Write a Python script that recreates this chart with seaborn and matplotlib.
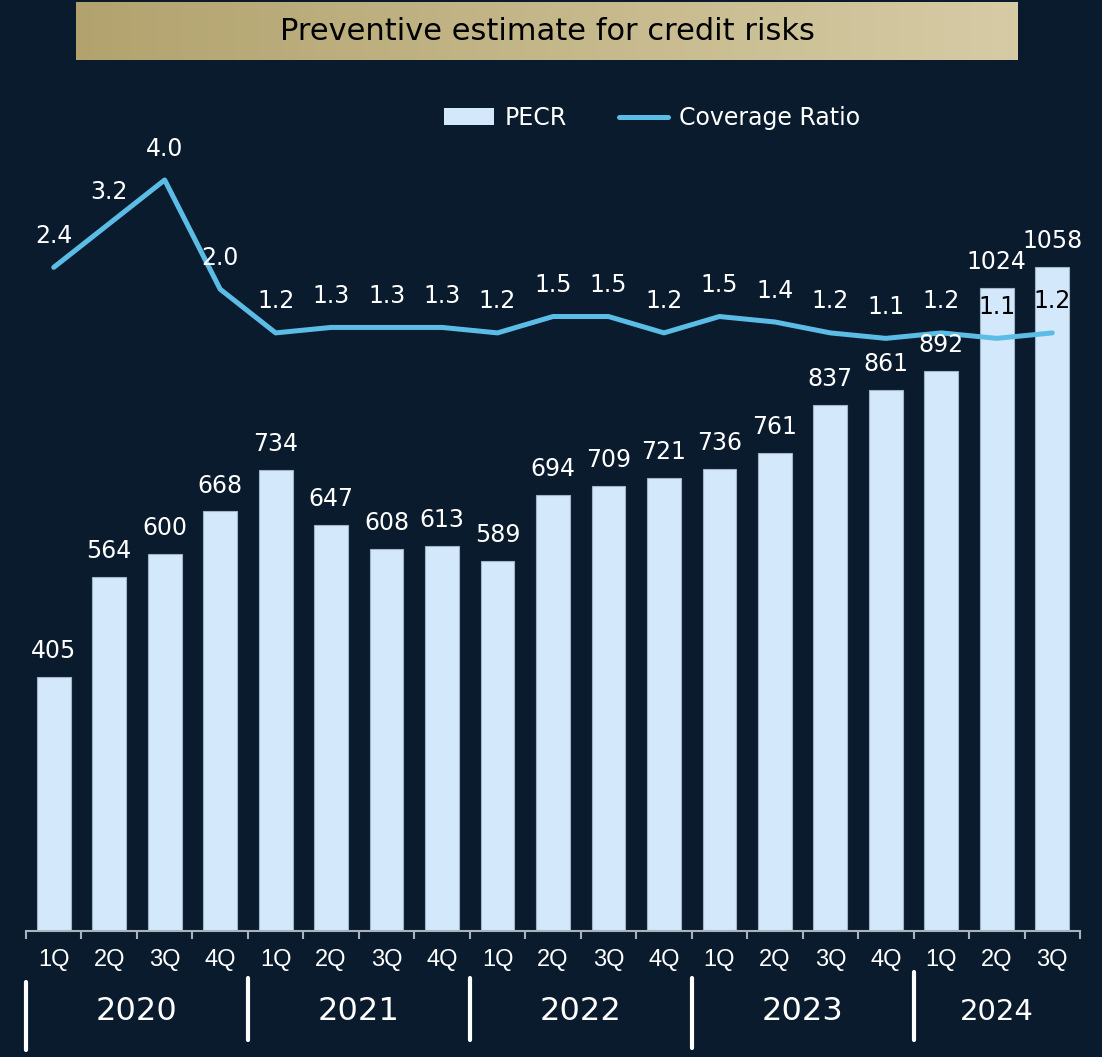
import numpy as np
import pandas as pd
import matplotlib
matplotlib.use("Agg")
import matplotlib.pyplot as plt
import matplotlib.transforms as mtransforms
from matplotlib.patches import Patch
from matplotlib.lines import Line2D
import seaborn as sns

# ---- data ----
years = ["2020", "2021", "2022", "2023", "2024"]
quarters_per_year = [4, 4, 4, 4, 3]
quarter_labels = ["1Q", "2Q", "3Q", "4Q", "1Q", "2Q", "3Q", "4Q", "1Q", "2Q",
                  "3Q", "4Q", "1Q", "2Q", "3Q", "4Q", "1Q", "2Q", "3Q"]
pecr = [405, 564, 600, 668, 734, 647, 608, 613, 589, 694,
        709, 721, 736, 761, 837, 861, 892, 1024, 1058]
coverage = [2.4, 3.2, 4.0, 2.0, 1.2, 1.3, 1.3, 1.3, 1.2, 1.5,
            1.5, 1.2, 1.5, 1.4, 1.2, 1.1, 1.2, 1.1, 1.2]

period = []
for y, n in zip(years, quarters_per_year):
    for q in range(n):
        period.append(f"{y} {q + 1}Q")
df = pd.DataFrame({"period": period, "quarter": quarter_labels,
                   "PECR": pecr, "Coverage": coverage})
df["pos"] = np.arange(len(df))

BG = "#0a1b2d"
BAR = "#d4e8fb"
LINE = "#5bbde6"
SPINE = "#a9b3bd"

sns.set_theme(style="white")
plt.rcParams["font.family"] = ["DejaVu Sans"]

W, H = 1102, 1057
fig = plt.figure(figsize=(W / 100, H / 100), dpi=100, facecolor=BG)

# main plotting area (pixel geometry converted to figure fractions)
left_px, right_px, top_px, bottom_px = 26, 1080, 80, 931
ax = fig.add_axes([left_px / W, 1 - bottom_px / H,
                   (right_px - left_px) / W, (bottom_px - top_px) / H])
ax.set_facecolor("none")

sns.barplot(data=df, x="period", y="PECR", color=BAR, width=0.61,
            saturation=1, edgecolor="#9fb4c6", linewidth=0.8, ax=ax)
n = len(df)
ax.set_xlim(-0.5, n - 0.5)
ax.set_ylim(0, 851 / 0.628)
ax.set_xlabel("")
ax.set_ylabel("")
ax.set_yticks([])
for s in ["left", "right", "top"]:
    ax.spines[s].set_visible(False)
ax.spines["bottom"].set_color(SPINE)
ax.spines["bottom"].set_linewidth(1.5)

# boundary ticks (major) and centred quarter labels (minor)
ax.set_xticks(np.arange(-0.5, n, 1.0))
ax.set_xticklabels([])
ax.tick_params(axis="x", which="major", direction="out", length=6,
               width=1.5, color=SPINE, bottom=True)
ax.set_xticks(np.arange(n), minor=True)
ax.set_xticklabels(quarter_labels, minor=True)
ax.tick_params(axis="x", which="minor", length=0, pad=13,
               labelsize=17, labelcolor="white")
for lbl in ax.get_xticklabels(minor=True):
    lbl.set_fontfamily(["Liberation Sans", "DejaVu Sans"])

# coverage ratio on a secondary axis
ax2 = ax.twinx()
ax2.set_facecolor("none")
sns.lineplot(data=df, x="pos", y="Coverage", color=LINE, linewidth=3.6,
             solid_capstyle="round", ax=ax2)
ax2.set_ylim(-9.75, 5.83)
ax2.set_xlim(-0.5, n - 0.5)
ax2.set_yticks([])
ax2.set_xlabel("")
ax2.set_ylabel("")
for s in ax2.spines.values():
    s.set_visible(False)

# value labels
for i, v in enumerate(pecr):
    ax2.annotate(f"{v}", (i, v), xycoords=ax.transData, xytext=(0, 10),
                 textcoords="offset points", ha="center", va="bottom",
                 fontsize=17, color="white", zorder=5)
label_colors = ["white"] * (n - 2) + ["black", "black"]
for i, (v, c) in enumerate(zip(coverage, label_colors)):
    ax2.annotate(f"{v:.1f}", (i, v), xytext=(0, 14), textcoords="offset points",
                 ha="center", va="bottom", fontsize=17, color=c, zorder=5)

# year labels and separators beneath the quarter labels
blend = mtransforms.blended_transform_factory(ax.transData, fig.transFigure)
start = 0
sep_tops = [982, 978, 978, 978, 972]
sep_bottoms = [1050, 1040, 1040, 1048, 1040]
for k, (y, cnt) in enumerate(zip(years, quarters_per_year)):
    b = start - 0.5
    fig.add_artist(Line2D([b, b], [1 - sep_bottoms[k] / H, 1 - sep_tops[k] / H],
                          transform=blend, color="white", linewidth=3))
    centre = start + (cnt - 1) / 2
    fig.text(centre, 1 - 1012 / H, y, transform=blend, ha="center",
             va="center", fontsize=23 if cnt == 4 else 21, color="white")
    start += cnt

# legend
handles = [Patch(facecolor=BAR, edgecolor="none", label="PECR"),
           Line2D([0], [0], color=LINE, linewidth=3.6, solid_capstyle="round",
                  label="Coverage Ratio")]
fig.legend(handles=handles, loc="center", bbox_to_anchor=(652 / W, 1 - 118 / H),
           ncol=2, frameon=False, fontsize=17, labelcolor="white",
           handlelength=2.1, handletextpad=0.45, columnspacing=2.2)

# title banner with a gold gradient
tax = fig.add_axes([76 / W, 1 - 60 / H, 942 / W, 58 / H])
grad = np.linspace(0, 1, 256)[None, :, None]
c0 = np.array([178, 163, 110]) / 255
c1 = np.array([214, 203, 165]) / 255
tax.imshow(c0 + (c1 - c0) * grad, aspect="auto", extent=[0, 1, 0, 1])
tax.set_axis_off()
tax.text(0.5, 0.5, "Preventive estimate for credit risks", ha="center",
         va="center", fontsize=22, color="black", transform=tax.transAxes)

fig.savefig("out.png", dpi=100, facecolor=BG)
